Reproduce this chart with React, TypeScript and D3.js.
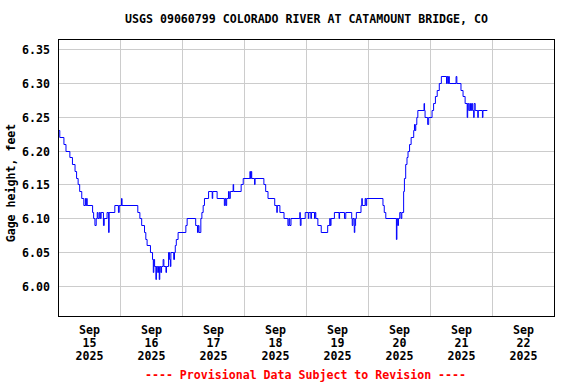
import { useEffect, useRef } from "react";
import * as d3 from "d3";

// gage height readings per day: [hour of day, feet]
const sep15 = [
  [0, 6.23], [0.5, 6.22], [2.1, 6.21], [2.9, 6.2], [4.4, 6.19], [5.4, 6.18], [6.4, 6.17], [7.0, 6.16],
  [7.6, 6.15], [8.2, 6.14], [9.0, 6.13], [9.8, 6.12], [10.4, 6.13], [10.6, 6.12], [10.9, 6.13], [11.1, 6.12],
  [13.2, 6.11], [13.6, 6.1], [14.1, 6.09], [14.6, 6.1], [15.0, 6.11], [15.3, 6.1], [15.8, 6.11], [16.2, 6.1],
  [16.5, 6.11], [17.4, 6.09], [17.7, 6.1], [18.8, 6.11], [19.4, 6.08], [19.6, 6.11], [21.8, 6.12], [23.2, 6.11],
  [23.5, 6.12],
];
const sep16 = [
  [0.4, 6.13], [0.6, 6.12], [6.7, 6.11], [7.5, 6.1], [8.2, 6.09], [9.3, 6.08], [9.8, 6.07], [10.3, 6.06],
  [11.6, 6.05], [12.4, 6.04], [12.7, 6.02], [12.9, 6.04], [13.2, 6.03], [13.7, 6.01], [13.9, 6.03], [14.4, 6.02],
  [14.7, 6.03], [15.0, 6.01], [15.2, 6.03], [15.6, 6.02], [15.9, 6.03], [16.5, 6.04], [16.8, 6.03], [17.6, 6.02],
  [17.8, 6.03], [18.6, 6.05], [19.0, 6.04], [19.3, 6.03], [19.5, 6.05], [20.6, 6.04], [20.9, 6.05], [21.2, 6.06],
  [21.6, 6.07], [22.3, 6.08],
];
const sep17 = [
  [1.3, 6.09], [1.8, 6.1], [5.1, 6.09], [5.8, 6.08], [6.1, 6.09], [6.4, 6.08], [7.1, 6.1], [7.5, 6.11],
  [8.0, 6.12], [8.5, 6.13], [10.1, 6.14], [11.5, 6.13], [11.7, 6.14], [13.4, 6.13], [16.2, 6.12], [16.5, 6.13],
  [16.8, 6.12], [17.1, 6.13], [17.8, 6.14], [18.1, 6.13], [18.5, 6.14], [19.6, 6.15], [19.8, 6.14], [22.7, 6.15],
  [23.5, 6.16],
];
const sep18 = [
  [2.1, 6.17], [2.3, 6.16], [2.6, 6.17], [2.8, 6.16], [3.9, 6.15], [4.1, 6.16], [7.5, 6.15], [8.2, 6.14],
  [9.1, 6.13], [11.7, 6.12], [12.5, 6.11], [12.7, 6.12], [13.7, 6.11], [15.3, 6.1], [16.8, 6.09], [17.2, 6.1],
  [17.5, 6.09], [18.0, 6.1], [21.4, 6.11], [21.6, 6.09], [21.9, 6.1], [23.5, 6.11],
];
const sep19 = [
  [0.7, 6.1], [0.9, 6.11], [1.7, 6.1], [1.9, 6.11], [3.1, 6.1], [3.3, 6.11], [3.6, 6.1], [4.4, 6.09],
  [5.7, 6.08], [8.2, 6.09], [9.0, 6.1], [9.2, 6.09], [9.5, 6.1], [10.8, 6.11], [12.6, 6.1], [12.8, 6.11],
  [14.7, 6.1], [15.2, 6.11], [17.5, 6.1], [17.7, 6.09], [18.0, 6.1], [18.5, 6.08], [18.7, 6.09], [19.0, 6.1],
  [19.3, 6.11], [21.1, 6.12], [21.4, 6.13], [21.6, 6.12], [22.7, 6.13], [23.0, 6.12], [23.3, 6.13],
];
const sep20 = [
  [5.6, 6.12], [6.1, 6.11], [6.7, 6.1], [10.8, 6.07], [11.0, 6.1], [11.3, 6.09], [11.6, 6.1], [12.1, 6.11],
  [12.6, 6.1], [12.9, 6.11], [13.6, 6.14], [13.9, 6.16], [14.4, 6.18], [14.9, 6.19], [15.3, 6.2], [15.9, 6.21],
  [16.5, 6.22], [17.5, 6.23], [17.8, 6.24], [18.0, 6.23], [18.3, 6.24], [18.7, 6.25], [19.1, 6.26], [21.5, 6.27],
  [21.7, 6.26], [21.9, 6.25], [22.9, 6.24], [23.3, 6.25],
];
const sep21 = [
  [0.6, 6.26], [1.2, 6.27], [1.9, 6.28], [2.6, 6.29], [3.4, 6.3], [4.2, 6.31], [6.2, 6.3], [6.4, 6.31],
  [6.7, 6.3], [7.0, 6.31], [7.3, 6.3], [9.9, 6.31], [10.2, 6.3], [11.8, 6.29], [12.6, 6.28], [13.4, 6.27],
  [14.2, 6.25], [14.4, 6.27], [14.8, 6.26], [15.2, 6.27], [15.5, 6.26], [15.9, 6.27], [16.3, 6.26], [16.7, 6.25],
  [16.9, 6.27], [17.3, 6.26], [18.3, 6.25], [18.5, 6.26], [20.1, 6.25], [20.3, 6.26], [22.0, 6.26],
];
const days = [sep15, sep16, sep17, sep18, sep19, sep20, sep21];

const yTicks = [6.0, 6.05, 6.1, 6.15, 6.2, 6.25, 6.3, 6.35];
const title = "USGS 09060799 COLORADO RIVER AT CATAMOUNT BRIDGE, CO";
const yLabel = "Gage height, feet";
const footnote = "---- Provisional Data Subject to Revision ----";

const FONT = "'DejaVu Sans Mono', monospace";

export default function App() {
  const svgRef = useRef(null);

  useEffect(() => {
    const svg = d3.select(svgRef.current);
    svg.selectAll("*").remove();

    const start = Date.UTC(2025, 8, 15);
    const end = Date.UTC(2025, 8, 23);
    const left = 58.5, right = 554.5, top = 39.5, bottom = 316.5;

    const x = d3.scaleUtc().domain([new Date(start), new Date(end)]).range([left, right]);
    const y = d3.scaleLinear().domain([5.9557, 6.3648]).range([bottom, top]);
    const crisp = (v) => Math.round(v - 0.5) + 0.5;

    const points = days.flatMap((day, i) =>
      day.map(([h, v]) => ({ date: new Date(start + (i * 24 + h) * 3600e3), value: v }))
    );

    // grid
    const grid = svg.append("g").attr("stroke", "#cccccc").attr("stroke-width", 1);
    grid.selectAll("line.h")
      .data(yTicks)
      .join("line")
      .attr("x1", left).attr("x2", right)
      .attr("y1", (d) => crisp(y(d))).attr("y2", (d) => crisp(y(d)));
    const midnights = d3.utcDay.range(new Date(start + 864e5), new Date(end));
    grid.selectAll("line.v")
      .data(midnights)
      .join("line")
      .attr("x1", (d) => crisp(x(d))).attr("x2", (d) => crisp(x(d)))
      .attr("y1", top).attr("y2", bottom);

    // the series
    const line = d3.line()
      .x((d) => x(d.date))
      .y((d) => crisp(y(d.value)))
      .curve(d3.curveStepAfter);
    svg.append("path")
      .attr("fill", "none")
      .attr("stroke", "#0000ff")
      .attr("stroke-width", 1)
      .attr("d", line(points));

    // frame
    svg.append("rect")
      .attr("x", left).attr("y", top)
      .attr("width", right - left).attr("height", bottom - top)
      .attr("fill", "none").attr("stroke", "#000").attr("stroke-width", 1);

    const text = svg.append("g")
      .attr("font-family", FONT)
      .attr("font-weight", "bold")
      .attr("font-size", "11.6px")
      .attr("fill", "#000");

    // y tick labels
    text.selectAll("text.yt")
      .data(yTicks)
      .join("text")
      .attr("x", 50)
      .attr("y", (d) => y(d) + 4.5)
      .attr("text-anchor", "end")
      .text((d) => d3.format(".2f")(d));

    // x tick labels, at noon of each day
    const noons = d3.utcDay.range(new Date(start), new Date(end)).map((d) => d3.utcHour.offset(d, 12));
    const fmts = [d3.utcFormat("%b"), d3.utcFormat("%d"), d3.utcFormat("%Y")];
    noons.forEach((d) => {
      fmts.forEach((f, i) => {
        text.append("text")
          .attr("x", x(d))
          .attr("y", 334 + i * 13)
          .attr("text-anchor", "middle")
          .text(f(d));
      });
    });

    text.append("text")
      .attr("x", (left + right) / 2)
      .attr("y", 23)
      .attr("text-anchor", "middle")
      .text(title);

    text.append("text")
      .attr("transform", "translate(15, 183) rotate(-90)")
      .attr("text-anchor", "middle")
      .text(yLabel);

    text.append("text")
      .attr("x", 305.5)
      .attr("y", 379)
      .attr("text-anchor", "middle")
      .attr("fill", "#ff0000")
      .text(footnote);
  }, []);

  return (
    <svg
      ref={svgRef}
      width={576}
      height={384}
      style={{ position: "absolute", left: 0, top: 0, background: "#fff" }}
    ></svg>
  );
}
